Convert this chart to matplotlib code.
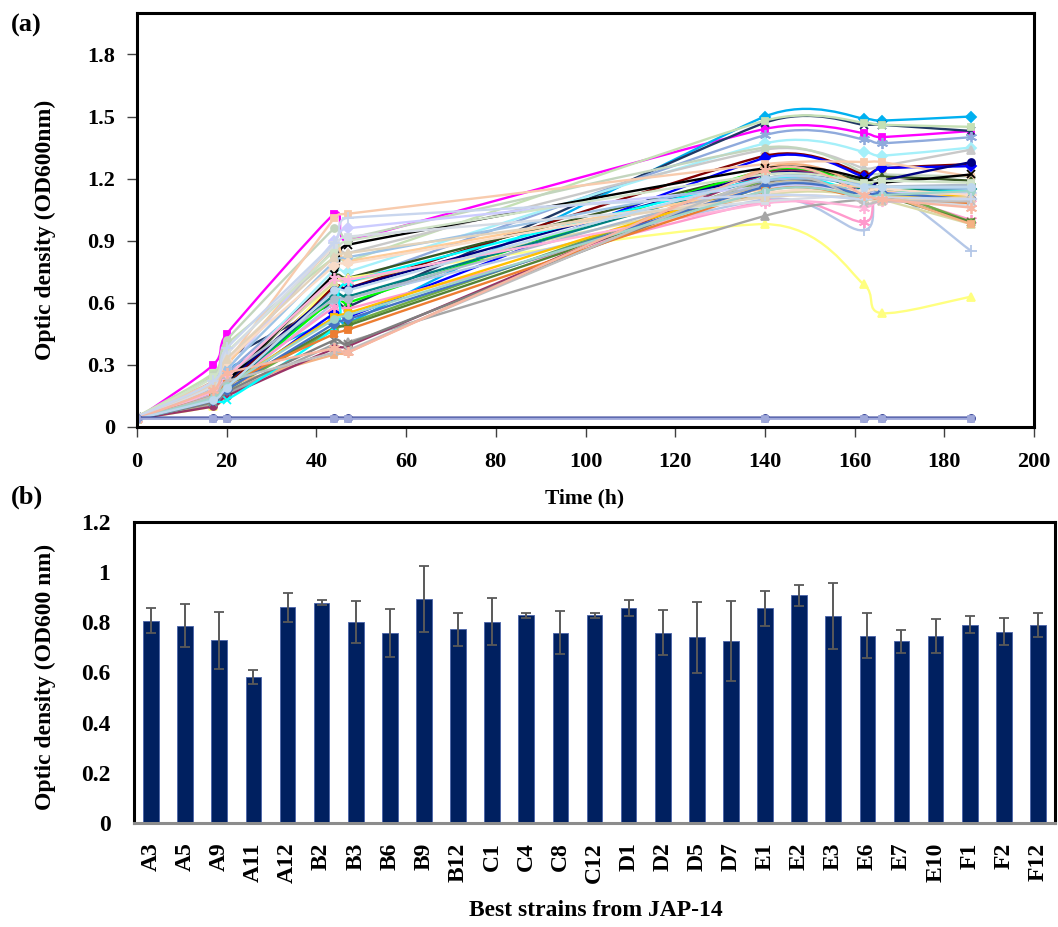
import numpy as np
import matplotlib
matplotlib.use('Agg')
import matplotlib.pyplot as plt
import matplotlib.ticker as ticker
from matplotlib.path import Path
from matplotlib.patches import PathPatch

plt.rcParams['font.family'] = ['Liberation Serif', 'DejaVu Serif']
plt.rcParams['font.weight'] = 'bold'

# ---- panel (a): growth curves, OD600 read at each sampling time ----
time_h = [0, 17, 20, 44, 47, 140, 162, 166, 186]

od_curves = [
    [0.04, 0.30, 0.45, 1.03, 0.90, 1.44, 1.42, 1.40, 1.43],
    [0.04, 0.20, 0.28, 0.52, 0.50, 1.50, 1.49, 1.48, 1.50],
    [0.05, 0.22, 0.33, 0.60, 0.58, 1.47, 1.46, 1.46, 1.43],
    [0.05, 0.26, 0.40, 0.82, 0.80, 1.48, 1.47, 1.46, 1.45],
    [0.05, 0.18, 0.26, 0.72, 0.70, 1.41, 1.39, 1.37, 1.40],
    [0.04, 0.15, 0.22, 0.76, 0.75, 1.37, 1.33, 1.31, 1.35],
    [0.05, 0.20, 0.30, 0.86, 0.84, 1.34, 1.25, 1.26, 1.34],
    [0.04, 0.25, 0.42, 0.96, 0.91, 1.35, 1.23, 1.22, 1.21],
    [0.05, 0.14, 0.20, 0.68, 0.67, 1.31, 1.22, 1.25, 1.27],
    [0.04, 0.12, 0.18, 0.55, 0.53, 1.30, 1.21, 1.25, 1.26],
    [0.05, 0.22, 0.31, 1.01, 1.03, 1.27, 1.28, 1.28, 1.21],
    [0.04, 0.15, 0.21, 0.73, 0.72, 1.23, 1.19, 1.21, 1.19],
    [0.04, 0.13, 0.19, 0.62, 0.60, 1.24, 1.15, 1.14, 1.16],
    [0.04, 0.10, 0.16, 0.70, 0.72, 0.98, 0.69, 0.55, 0.63],
    [0.04, 0.12, 0.18, 0.60, 0.62, 1.10, 0.95, 1.16, 0.85],
    [0.04, 0.14, 0.20, 0.58, 0.57, 1.09, 0.99, 1.12, 1.00],
    [0.04, 0.11, 0.16, 0.40, 0.41, 1.02, 1.10, 1.11, 1.12],
    [0.04, 0.16, 0.24, 0.70, 0.70, 1.12, 1.12, 1.10, 0.98],
    [0.04, 0.12, 0.18, 0.47, 0.50, 1.19, 1.18, 1.15, 0.99],
    [0.04, 0.13, 0.19, 0.48, 0.49, 1.16, 1.13, 1.12, 0.99],
    [0.04, 0.12, 0.20, 0.35, 0.36, 1.25, 1.16, 1.13, 0.98],
    [0.04, 0.10, 0.15, 0.38, 0.39, 1.22, 1.13, 1.12, 1.10],
    [0.04, 0.15, 0.22, 0.66, 0.67, 1.22, 1.15, 1.19, 1.28],
    [0.04, 0.16, 0.22, 0.74, 0.88, 1.25, 1.20, 1.18, 1.22],
    [0.04, 0.14, 0.19, 0.64, 0.63, 1.20, 1.15, 1.14, 1.15],
    [0.04, 0.12, 0.13, 0.48, 0.70, 1.20, 1.12, 1.13, 1.14],
    [0.04, 0.14, 0.20, 0.53, 0.55, 1.17, 1.12, 1.11, 1.12],
    [0.04, 0.12, 0.17, 0.42, 0.40, 1.18, 1.10, 1.10, 1.08],
    [0.04, 0.20, 0.30, 0.88, 0.80, 1.15, 1.16, 1.14, 1.10],
    [0.04, 0.18, 0.27, 0.90, 0.96, 1.16, 1.14, 1.13, 1.13],
    [0.05, 0.19, 0.28, 0.80, 0.82, 1.19, 1.17, 1.16, 1.15],
    [0.04, 0.16, 0.25, 0.62, 0.62, 1.17, 1.13, 1.16, 1.17],
    [0.05, 0.24, 0.36, 0.85, 0.90, 1.22, 1.18, 1.19, 1.18],
    [0.05, 0.20, 0.32, 0.78, 0.79, 1.13, 1.14, 1.15, 1.12],
    [0.04, 0.17, 0.24, 0.72, 0.71, 1.08, 1.06, 1.09, 1.08],
    [0.04, 0.13, 0.18, 0.50, 0.52, 1.16, 1.12, 1.13, 1.10],
    [0.04, 0.15, 0.21, 0.45, 0.47, 1.14, 1.10, 1.10, 1.08],
    [0.05, 0.20, 0.35, 0.88, 0.92, 1.09, 1.12, 1.10, 1.07],
    [0.05, 0.21, 0.33, 0.82, 0.84, 1.11, 1.10, 1.09, 1.11],
    [0.04, 0.15, 0.22, 0.36, 0.37, 1.20, 1.08, 1.09, 1.09],
    [0.04, 0.14, 0.20, 0.52, 0.54, 1.14, 1.11, 1.12, 1.14],
    [0.05, 0.22, 0.38, 0.89, 1.01, 1.12, 1.10, 1.11, 1.10],
    [0.04, 0.18, 0.26, 0.38, 0.36, 1.24, 1.12, 1.10, 1.06],
    [0.04, 0.13, 0.19, 0.66, 0.66, 1.20, 1.16, 1.16, 1.16],
    # uninoculated controls
    [0.045, 0.045, 0.045, 0.045, 0.045, 0.045, 0.045, 0.045, 0.045],
    [0.04, 0.04, 0.04, 0.04, 0.04, 0.04, 0.04, 0.04, 0.04],
]

curve_colors = [
    '#FF00FF', '#00B0F0', '#203864', '#C5E0B4', '#8FAADC', '#A5F0FA',
    '#C9C9C9', '#C3D5BE', '#800000', '#0000FF', '#F8CBAD', '#375623',
    '#00FF00', '#FFFF80', '#B4C7E7', '#FF99CC', '#A6A6A6', '#DADAA8',
    '#70AD47', '#548235', '#F4B183', '#993366', '#000080', '#000000',
    '#008080', '#00FFFF', '#FFC000', '#7F7F7F', '#FFCC99', '#CCCCFF',
    '#9DC3E6', '#ADB9CA', '#D0E3C8', '#F9DCC8', '#FFB3D9', '#4472C4',
    '#ED7D31', '#D6DCE5', '#E2D3BC', '#BFBFBF', '#9FD4C9', '#C9D6EE',
    '#F7B7A3', '#BDD7EE', '#28358F', '#9FA8DA',
]
curve_markers = [
    's', 'D', 'x', 's', 'star', 'D', '^', 'o', 'o', 'D', 's', '^',
    'x', '^', '+', 'star', '^', '^', 'o', 'x', 's', 'o', 'o', 'x',
    'D', 'x', 's', 'x', '^', 'D', 'o', 'o', 's', 'D', 'star', 'D',
    's', 's', '^', 'x', 'o', '+', 'star', 'o', 'o', 's',
]

# ---- panel (b): mean OD600 of the best strains ----
strains = ['A3', 'A5', 'A9', 'A11', 'A12', 'B2', 'B3', 'B6', 'B9', 'B12',
           'C1', 'C4', 'C8', 'C12', 'D1', 'D2', 'D5', 'D7', 'E1', 'E2',
           'E3', 'E6', 'E7', 'E10', 'F1', 'F2', 'F12']
od_mean = [0.807, 0.787, 0.728, 0.583, 0.860, 0.879, 0.803, 0.757, 0.892,
           0.772, 0.803, 0.828, 0.759, 0.828, 0.856, 0.759, 0.740, 0.725,
           0.856, 0.907, 0.825, 0.747, 0.725, 0.744, 0.791, 0.763, 0.788]
od_err = [0.050, 0.085, 0.115, 0.028, 0.058, 0.011, 0.084, 0.095, 0.132,
          0.066, 0.094, 0.010, 0.085, 0.009, 0.032, 0.089, 0.142, 0.160,
          0.070, 0.043, 0.130, 0.090, 0.046, 0.068, 0.035, 0.055, 0.048]

MARKER_STYLE = {
    's': ('s', 5), 'D': ('D', 5), '^': ('^', 6), 'x': ('x', 6),
    'o': ('o', 5), '+': ('+', 8), 'star': ((6, 2, 0), 8),
}


def smooth_path(ax, x, y):
    # Excel-like smoothed line: cubic Bezier through the points,
    # control points built in pixel space and clamped to avoid loops
    tr = ax.transData
    pts = tr.transform(np.column_stack([x, y]))
    n = len(pts)
    tans = []
    for i in range(n):
        t = (pts[min(i + 1, n - 1)] - pts[max(i - 1, 0)]) / 6.0
        lims = []
        if i > 0:
            lims.append(np.hypot(*(pts[i] - pts[i - 1])) / 2)
        if i < n - 1:
            lims.append(np.hypot(*(pts[i + 1] - pts[i])) / 2)
        tl = np.hypot(*t)
        if tl > min(lims) and tl > 0:
            t = t * min(lims) / tl
        tans.append(t)
    verts = [pts[0]]
    codes = [Path.MOVETO]
    for i in range(n - 1):
        verts += [pts[i] + tans[i], pts[i + 1] - tans[i + 1], pts[i + 1]]
        codes += [Path.CURVE4] * 3
    return Path(tr.inverted().transform(np.array(verts)), codes)


W, H = 1058, 927
fig = plt.figure(figsize=(W / 100, H / 100), dpi=100)

# ---------------- (a) ----------------
ax_a = fig.add_axes([137 / W, 1 - 427 / H, (1034 - 137) / W, (427 - 13) / H])
ax_a.set_xlim(0, 200)
ax_a.set_ylim(0, 2.0)
ax_a.set_xticks(range(0, 201, 20))
ax_a.set_yticks([0, 0.3, 0.6, 0.9, 1.2, 1.5, 1.8])
ax_a.yaxis.set_major_formatter(ticker.FuncFormatter(lambda v, p: f'{v:g}'))

for k, vals in enumerate(od_curves):
    c = curve_colors[k]
    m, ms = MARKER_STYLE[curve_markers[k]]
    ax_a.add_patch(PathPatch(smooth_path(ax_a, time_h, vals), fill=False,
                             edgecolor=c, lw=1.7, zorder=2 + k * 0.01,
                             clip_on=True))
    ax_a.plot(time_h, vals, linestyle='none', marker=m, markersize=ms,
              color=c, markeredgecolor=c, markeredgewidth=1.3,
              zorder=2.005 + k * 0.01)

for s in ax_a.spines.values():
    s.set_linewidth(2.2)
    s.set_color('black')
ax_a.tick_params(direction='out', length=7, width=1, color='#404040',
                 labelsize=16, pad=9)
ax_a.tick_params(axis='x', pad=11)

# ---------------- (b) ----------------
ax_b = fig.add_axes([134 / W, 1 - 823 / H, (1055 - 134) / W, (823 - 522) / H])
xpos = np.arange(len(strains))
ax_b.bar(xpos, od_mean, width=0.46, color='#002060', edgecolor='#4A63A8',
         linewidth=0.6, zorder=2)
ax_b.errorbar(xpos, od_mean, yerr=od_err, fmt='none', ecolor='#595959',
              elinewidth=1.4, capsize=3.5, capthick=1.3, zorder=3)
ax_b.set_xlim(-0.5, len(strains) - 0.5)
ax_b.set_ylim(0, 1.2)
ax_b.set_yticks([0, 0.2, 0.4, 0.6, 0.8, 1.0, 1.2])
ax_b.yaxis.set_major_formatter(ticker.FuncFormatter(lambda v, p: f'{v:g}'))
ax_b.set_xticks(xpos)
ax_b.set_xticklabels(strains, rotation=90)
for name in ('top', 'left', 'right'):
    ax_b.spines[name].set_linewidth(2.2)
    ax_b.spines[name].set_color('black')
ax_b.spines['bottom'].set_linewidth(2.2)
ax_b.spines['bottom'].set_color('#8C8C8C')
ax_b.tick_params(length=0, labelsize=17)
ax_b.tick_params(axis='y', pad=17)
ax_b.tick_params(axis='x', pad=14)

# ---------------- labels ----------------
fig.text(11 / W, 1 - 25 / H, '(a)', fontsize=19, va='center', ha='left')
fig.text(11 / W, 1 - 497 / H, '(b)', fontsize=19, va='center', ha='left')
fig.text(585 / W, 1 - 498 / H, 'Time (h)', fontsize=15.5, ha='center', va='center')
fig.text(45 / W, 1 - 230 / H, 'Optic density (OD600nm)', fontsize=17,
         rotation=90, ha='center', va='center')
fig.text(45 / W, 1 - 677 / H, 'Optic density (OD600 nm)', fontsize=17,
         rotation=90, ha='center', va='center')
fig.text(596 / W, 1 - 910 / H, 'Best strains from JAP-14', fontsize=17,
         ha='center', va='center')

fig.savefig('out.png', dpi=100)
